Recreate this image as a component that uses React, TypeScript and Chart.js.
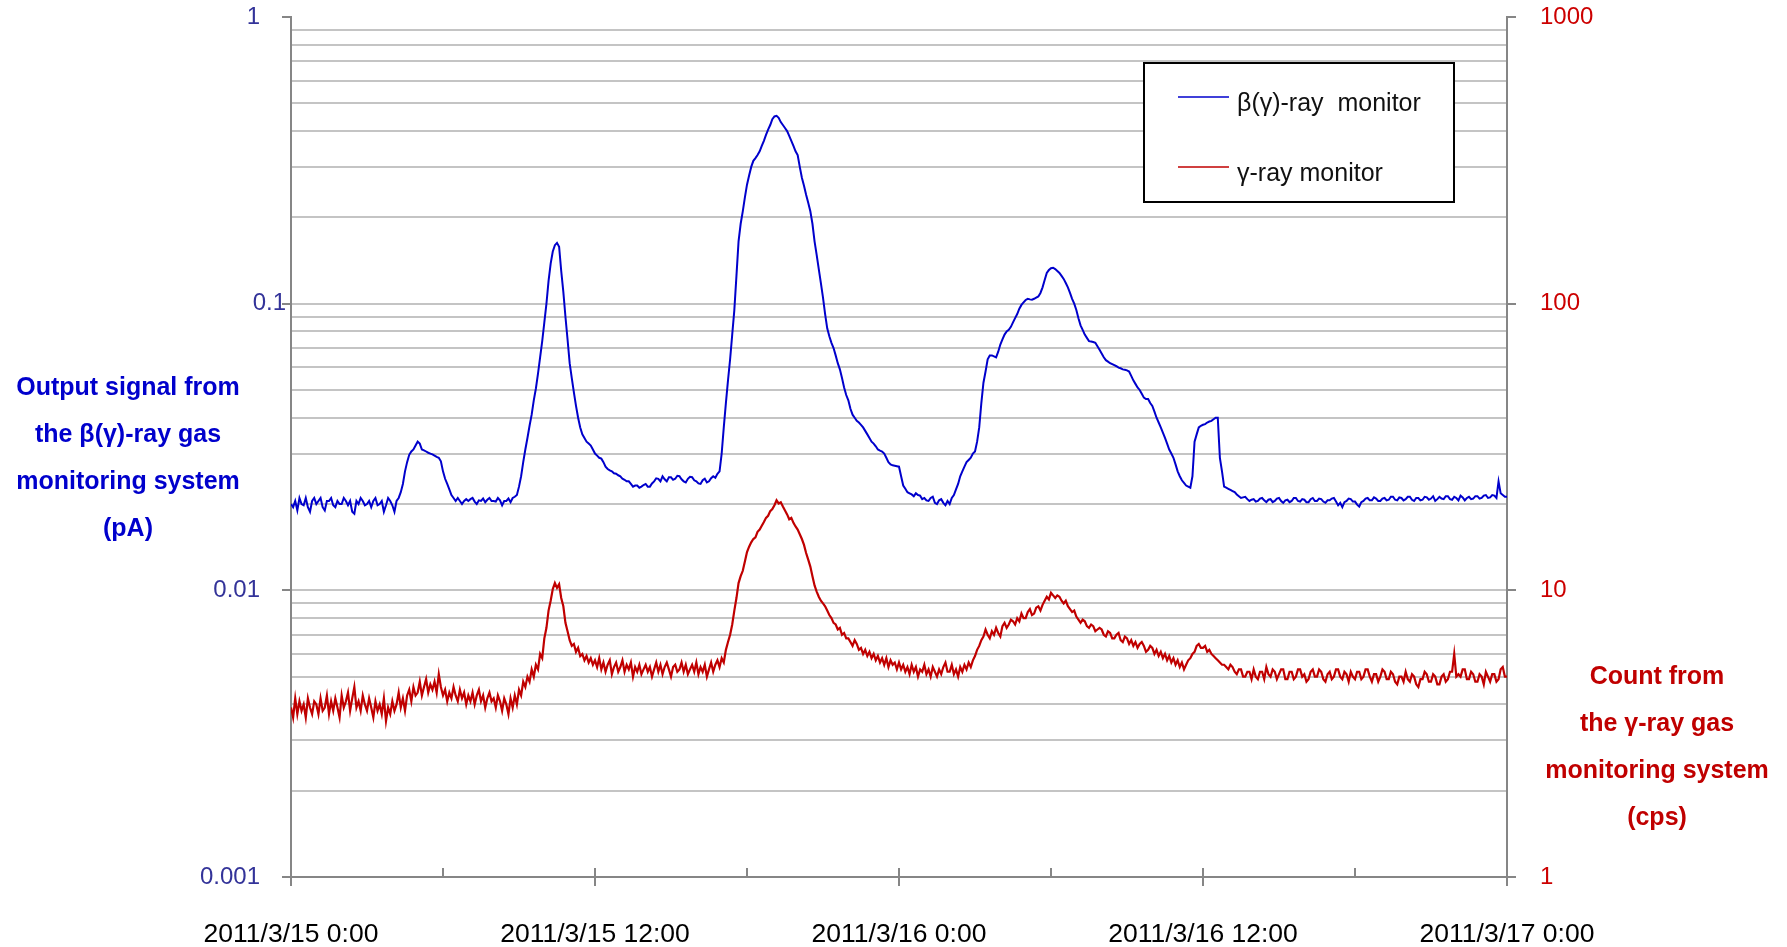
import React, { useEffect, useRef } from 'react';
import { Chart, registerables } from 'chart.js';

Chart.register(...registerables);

// ---------- data ----------
const STEP_HOURS = 1 / 12; // one sample every 5 minutes, starting 2011/3/15 0:00

const xTickHours = [0, 6, 12, 18, 24, 30, 36, 42, 48];
const xTickLabels = ['2011/3/15 0:00', '2011/3/15 12:00', '2011/3/16 0:00', '2011/3/16 12:00', '2011/3/17 0:00'];

const leftTickValues = [
  0.001, 0.002, 0.003, 0.004, 0.005, 0.006, 0.007, 0.008, 0.009,
  0.01, 0.02, 0.03, 0.04, 0.05, 0.06, 0.07, 0.08, 0.09,
  0.1, 0.2, 0.3, 0.4, 0.5, 0.6, 0.7, 0.8, 0.9, 1,
];
const leftMajorValues = [0.001, 0.01, 0.1, 1];
const leftMajorLabels = ['0.001', '0.01', '0.1', '1'];

const rightTickValues = [1, 10, 100, 1000];
const rightMajorLabels = ['1', '10', '100', '1000'];

const betaLabel = 'β(γ)-ray  monitor';
const gammaLabel = 'γ-ray monitor';

const leftTitleLines = ['Output signal from', 'the β(γ)-ray gas', 'monitoring system', '(pA)'];
const rightTitleLines = ['Count from', 'the γ-ray gas', 'monitoring system', '(cps)'];

// β(γ)-ray monitor output (pA), 5-minute samples (one row per hour)
const betaValues = [
  0.020, 0.0195, 0.0205, 0.019, 0.021, 0.020, 0.0198, 0.021, 0.0195, 0.0188, 0.0205, 0.021,
  0.020, 0.0205, 0.021, 0.0195, 0.019, 0.0205, 0.0205, 0.021, 0.0198, 0.0195, 0.0205, 0.020,
  0.020, 0.021, 0.0205, 0.0198, 0.0205, 0.0188, 0.0185, 0.0205, 0.020, 0.021, 0.0205, 0.0198,
  0.020, 0.0205, 0.0195, 0.0205, 0.021, 0.0198, 0.020, 0.0205, 0.0188, 0.0198, 0.021, 0.0205,
  0.0198, 0.0188, 0.0205, 0.021, 0.022, 0.0235, 0.026, 0.028, 0.0297, 0.0305, 0.031, 0.032,
  0.033, 0.0325, 0.031, 0.0308, 0.0305, 0.0302, 0.030, 0.0298, 0.0295, 0.0292, 0.029, 0.0282,
  0.026, 0.0245, 0.0235, 0.0225, 0.0215, 0.021, 0.0205, 0.021, 0.0205, 0.020, 0.0205, 0.0208,
  0.0205, 0.0208, 0.0210, 0.0204, 0.0200, 0.0206, 0.0205, 0.0209, 0.0203, 0.0207, 0.0210, 0.0205,
  0.0205, 0.0204, 0.0210, 0.0206, 0.0198, 0.0205, 0.0205, 0.0209, 0.0203, 0.021, 0.0212, 0.0215,
  0.023, 0.025, 0.028, 0.031, 0.034, 0.0375, 0.041, 0.046, 0.0506, 0.057, 0.065, 0.074,
  0.086, 0.10, 0.12, 0.138, 0.152, 0.16, 0.163, 0.158, 0.13, 0.11, 0.09, 0.075,
  0.062, 0.055, 0.049, 0.044, 0.040, 0.037, 0.035, 0.034, 0.033, 0.0325, 0.032, 0.031,
  0.030, 0.0295, 0.029, 0.0288, 0.028, 0.027, 0.0265, 0.0262, 0.026, 0.0256, 0.0255, 0.0252,
  0.025, 0.0245, 0.0243, 0.0240, 0.024, 0.0235, 0.023, 0.0232, 0.0232, 0.0228, 0.023, 0.0233,
  0.0235, 0.023, 0.023, 0.0236, 0.024, 0.0246, 0.0245, 0.024, 0.025, 0.0244, 0.024, 0.0248,
  0.0248, 0.0243, 0.0245, 0.0251, 0.025, 0.0244, 0.024, 0.0238, 0.0245, 0.0249, 0.0248, 0.0242,
  0.024, 0.0236, 0.0235, 0.0242, 0.0245, 0.0238, 0.024, 0.0246, 0.025, 0.0247, 0.0255, 0.026,
  0.030, 0.037, 0.045, 0.054, 0.064, 0.078, 0.095, 0.125, 0.165, 0.19, 0.21, 0.235,
  0.26, 0.28, 0.30, 0.315, 0.322, 0.33, 0.34, 0.355, 0.37, 0.388, 0.405, 0.42,
  0.44, 0.45, 0.452, 0.445, 0.43, 0.42, 0.41, 0.40, 0.385, 0.37, 0.355, 0.34,
  0.33, 0.30, 0.275, 0.258, 0.24, 0.225, 0.21, 0.19, 0.165, 0.148, 0.132, 0.118,
  0.105, 0.092, 0.082, 0.077, 0.073, 0.070, 0.066, 0.062, 0.059, 0.055, 0.051, 0.048,
  0.046, 0.043, 0.041, 0.040, 0.039, 0.0385, 0.0378, 0.037, 0.036, 0.035, 0.034, 0.033,
  0.0325, 0.0318, 0.031, 0.0307, 0.0305, 0.030, 0.029, 0.028, 0.0275, 0.0273, 0.0272, 0.0271,
  0.027, 0.025, 0.0232, 0.0226, 0.022, 0.0218, 0.0216, 0.0213, 0.0218, 0.0215, 0.0214, 0.0208,
  0.021, 0.0206, 0.0205, 0.0210, 0.0212, 0.0202, 0.020, 0.0206, 0.0208, 0.0202, 0.0198, 0.0205,
  0.020, 0.021, 0.0215, 0.0225, 0.0235, 0.025, 0.026, 0.027, 0.028, 0.0285, 0.029, 0.030,
  0.0305, 0.033, 0.037, 0.045, 0.053, 0.058, 0.064, 0.066, 0.066, 0.0655, 0.065, 0.068,
  0.072, 0.075, 0.078, 0.080, 0.081, 0.083, 0.086, 0.089, 0.092, 0.096, 0.099, 0.101,
  0.103, 0.104, 0.1035, 0.1032, 0.104, 0.105, 0.106, 0.109, 0.114, 0.121, 0.128, 0.131,
  0.133, 0.1335, 0.132, 0.130, 0.128, 0.125, 0.122, 0.118, 0.114, 0.109, 0.104, 0.100,
  0.095, 0.089, 0.084, 0.081, 0.078, 0.076, 0.074, 0.0738, 0.0735, 0.073, 0.071, 0.069,
  0.067, 0.065, 0.0635, 0.0628, 0.062, 0.0615, 0.061, 0.0605, 0.0598, 0.0595, 0.059, 0.0588,
  0.0585, 0.058, 0.056, 0.054, 0.0525, 0.051, 0.050, 0.0485, 0.047, 0.0465, 0.0465, 0.045,
  0.044, 0.042, 0.040, 0.0385, 0.037, 0.0355, 0.034, 0.0325, 0.031, 0.030, 0.029, 0.0275,
  0.026, 0.025, 0.0242, 0.0237, 0.0232, 0.023, 0.0228, 0.025, 0.033, 0.035, 0.037, 0.0375,
  0.0378, 0.038, 0.0385, 0.0388, 0.039, 0.0395, 0.040, 0.040, 0.029, 0.026, 0.023, 0.0228,
  0.0226, 0.0224, 0.0222, 0.022, 0.0216, 0.0213, 0.021, 0.0211, 0.0212, 0.0208, 0.0205, 0.0207,
  0.0208, 0.0204, 0.0205, 0.0209, 0.021, 0.0206, 0.0203, 0.0207, 0.0208, 0.0203, 0.0205, 0.0209,
  0.021, 0.0205, 0.0202, 0.0206, 0.0207, 0.0203, 0.0205, 0.021, 0.021, 0.0205, 0.0204, 0.0208,
  0.0207, 0.0203, 0.0203, 0.0208, 0.021, 0.0205, 0.0205, 0.0209, 0.0208, 0.0204, 0.0202, 0.0206,
  0.0206, 0.0209, 0.021, 0.0204, 0.0198, 0.0202, 0.0195, 0.0203, 0.0205, 0.0209, 0.0208, 0.0204,
  0.0204, 0.0199, 0.0196, 0.0203, 0.0205, 0.0209, 0.021, 0.0206, 0.0206, 0.0211, 0.0209, 0.0205,
  0.0205, 0.0209, 0.021, 0.0206, 0.0207, 0.0212, 0.0212, 0.0207, 0.0206, 0.0211, 0.021, 0.0206,
  0.0208, 0.0212, 0.0212, 0.0207, 0.0205, 0.021, 0.021, 0.0206, 0.0207, 0.0212, 0.0211, 0.0207,
  0.0209, 0.0213, 0.0205, 0.0208, 0.0212, 0.0209, 0.0208, 0.0213, 0.0213, 0.0208, 0.0207, 0.0212,
  0.021, 0.0206, 0.0214, 0.0211, 0.0206, 0.021, 0.0212, 0.0208, 0.0209, 0.0213, 0.0213, 0.0209,
  0.021, 0.0214, 0.0215, 0.021, 0.0211, 0.0215, 0.0214, 0.021, 0.024, 0.0218, 0.0215, 0.0212,
  0.0212,
];

// γ-ray monitor count (cps), 5-minute samples (one row per hour)
const gammaValues = [
  3.9, 3.6, 4.2, 3.7, 4.1, 3.8, 4.0, 3.6, 4.2, 3.9, 3.7, 4.1,
  4.0, 3.7, 4.2, 3.8, 3.9, 4.3, 3.7, 4.1, 3.8, 4.2, 3.9, 3.6,
  4.3, 3.9, 4.1, 4.4, 3.8, 4.2, 4.6, 3.9, 4.1, 3.8, 4.3, 4.0,
  3.8, 4.2, 3.9, 3.6, 4.1, 3.8, 4.0, 3.7, 4.2, 3.5, 3.9, 3.7,
  4.1, 3.8, 4.0, 4.4, 3.9, 4.2, 3.8, 4.3, 4.5, 4.1, 4.6, 4.3,
  4.4, 4.8, 4.3, 4.6, 4.9, 4.4, 4.7, 4.5, 4.8, 4.4, 5.1, 4.6,
  4.3, 4.5, 4.1, 4.4, 4.2, 4.6, 4.3, 4.1, 4.5, 4.2, 4.4, 4.0,
  4.3, 4.1, 4.4, 4.0, 4.3, 4.5, 4.1, 4.3, 3.9, 4.2, 4.4, 4.1,
  4.2, 3.9, 4.3, 4.1, 3.8, 4.2, 4.0, 3.7, 4.2, 3.9, 4.3, 4.0,
  4.5, 4.3, 4.8, 4.6, 5.0, 4.8, 5.3, 5.0, 5.5, 5.3, 6.0, 5.8,
  6.8, 7.4, 8.5, 9.2, 10.1, 10.6, 10.2, 10.5, 9.4, 8.8, 7.7, 7.2,
  6.7, 6.4, 6.5, 6.1, 6.3, 5.9, 6.0, 5.7, 5.9, 5.6, 5.8, 5.5,
  5.7, 5.4, 5.8, 5.3, 5.6, 5.2, 5.5, 5.7, 5.1, 5.4, 5.6, 5.2,
  5.4, 5.7, 5.2, 5.5, 5.3, 5.6, 5.0, 5.4, 5.2, 5.5, 5.1, 5.3,
  5.5, 5.2, 5.4, 5.0, 5.3, 5.6, 5.2, 5.5, 5.1, 5.4, 5.6, 5.3,
  5.0, 5.4, 5.5, 5.2, 5.3, 5.6, 5.2, 5.5, 5.1, 5.3, 5.5, 5.2,
  5.6, 5.1, 5.4, 5.2, 5.5, 5.0, 5.3, 5.6, 5.2, 5.5, 5.7, 5.4,
  5.8, 5.6, 6.2, 6.6, 7.0, 7.6, 8.5, 9.4, 10.6, 11.2, 11.7, 12.6,
  13.6, 14.2, 14.7, 15.1, 15.3, 16.0, 16.3, 16.8, 17.3, 17.9, 18.2, 18.9,
  19.2, 19.8, 20.6, 20.1, 20.3, 19.6, 19.0, 18.4, 17.7, 17.9, 17.2, 16.7,
  16.3, 15.7, 15.1, 14.4, 13.5, 12.8, 12.1, 11.2, 10.4, 9.9, 9.5, 9.2,
  9.0, 8.8, 8.5, 8.2, 8.0, 7.7, 7.6, 7.3, 7.4, 7.0, 7.1, 6.8,
  6.8, 6.6, 6.4, 6.7, 6.5, 6.2, 6.3, 6.0, 6.2, 5.9, 6.1, 5.8,
  6.0, 5.7, 5.9, 5.6, 5.8, 5.5, 5.8, 5.4, 5.7, 5.5, 5.6, 5.3,
  5.6, 5.3, 5.5, 5.2, 5.4, 5.1, 5.5, 5.2, 5.4, 5.0, 5.3, 5.2,
  5.5, 5.1, 5.3, 5.0, 5.4, 5.2, 5.0, 5.3, 5.1, 5.4, 5.6, 5.2,
  5.2, 5.5, 5.1, 5.3, 5.0, 5.4, 5.2, 5.5, 5.3, 5.6, 5.4, 5.7,
  5.9, 6.2, 6.4, 6.7, 6.9, 7.3, 7.0, 6.8, 7.2, 7.0, 7.4, 7.1,
  6.9, 7.5, 7.7, 7.4, 7.6, 7.9, 7.8, 7.6, 8.0, 7.8, 8.3, 8.0,
  8.0, 8.4, 8.6, 8.2, 8.3, 8.7, 8.8, 8.5, 8.9, 9.2, 9.5, 9.3,
  9.8, 9.6, 9.4, 9.6, 9.5, 9.2, 9.0, 9.2, 8.8, 8.6, 8.4, 8.5,
  8.1, 7.9, 7.7, 7.9, 7.8, 7.5, 7.4, 7.6, 7.5, 7.2, 7.3, 7.4,
  7.3, 7.0, 6.9, 7.2, 7.1, 6.8, 6.8, 7.0, 7.1, 6.7, 6.6, 6.9,
  6.8, 6.5, 6.7, 6.4, 6.6, 6.3, 6.5, 6.6, 6.4, 6.1, 6.2, 6.4,
  6.3, 6.0, 6.2, 5.9, 6.1, 5.8, 6.0, 5.7, 5.9, 5.6, 5.8, 5.5,
  5.7, 5.4, 5.6, 5.3, 5.5, 5.7, 5.8, 6.0, 6.1, 6.4, 6.5, 6.3,
  6.3, 6.4, 6.1, 6.2, 6.0, 5.9, 5.8, 5.7, 5.6, 5.5, 5.5, 5.4,
  5.3, 5.5, 5.4, 5.2, 5.1, 5.3, 5.3, 5.0, 5.0, 5.2, 5.2, 4.9,
  5.3, 5.0, 4.9, 5.2, 5.2, 4.9, 5.4, 5.1, 5.0, 5.3, 5.2, 4.9,
  5.1, 5.3, 5.3, 4.9, 4.9, 5.2, 5.2, 4.9, 5.0, 5.3, 5.3, 5.0,
  5.1, 4.8, 4.9, 5.2, 5.3, 5.0, 5.0, 5.3, 5.2, 4.9, 4.8, 5.1,
  5.2, 4.9, 5.0, 5.3, 5.3, 5.0, 4.9, 5.2, 5.1, 4.8, 5.2, 5.0,
  4.9, 5.2, 5.2, 4.9, 5.0, 5.3, 5.3, 5.0, 4.8, 5.1, 5.1, 4.8,
  5.0, 5.3, 5.2, 4.9, 4.9, 5.2, 5.1, 4.8, 4.7, 5.0, 5.0, 4.8,
  5.2, 4.9, 4.8, 5.1, 5.0, 4.7, 4.6, 4.9, 4.9, 5.2, 5.1, 4.8,
  4.8, 5.1, 5.0, 4.7, 4.7, 5.0, 5.1, 4.8, 4.9, 5.2, 5.2, 6.0,
  5.0, 5.1, 5.0, 5.3, 5.3, 4.9, 4.9, 5.2, 5.1, 4.8, 4.8, 5.1,
  5.0, 4.7, 5.2, 5.0, 4.8, 5.1, 5.1, 4.8, 4.9, 5.3, 5.4, 5.0,
  5.0,
];

// ---------- styling / layout ----------
const FONT = "'Liberation Sans', Arial, sans-serif";
const BLUE = '#0000CC';
const RED = '#C00000';
const AXIS_GRAY = '#868686';
const GRID_GRAY = '#C4C4C4';
const LEFT_LABEL_COLOR = '#333399';
// right edge (px) of each left-axis tick label, in the order of leftMajorLabels
const leftLabelRightEdge = [260, 260, 286, 260];

const sameLog = (a: number, b: number) => Math.abs(Math.log10(a) - Math.log10(b)) < 1e-6;
const majorIndex = (v: number, list: number[]) => list.findIndex((m) => sameLog(v, m));

const zeroPad = (s: any) => {
  s.paddingTop = 0;
  s.paddingBottom = 0;
  s.paddingLeft = 0;
  s.paddingRight = 0;
};

const xTickPlugin = {
  id: 'xCrossTicks',
  afterDraw(chart: any) {
    const { ctx, chartArea, scales } = chart;
    const xs = scales.x;
    ctx.save();
    ctx.strokeStyle = AXIS_GRAY;
    ctx.lineWidth = 2;
    xTickHours.forEach((h) => {
      const px = Math.round(xs.getPixelForValue(h));
      const major = h % 12 === 0;
      ctx.beginPath();
      ctx.moveTo(px, chartArea.bottom - 9);
      ctx.lineTo(px, chartArea.bottom + (major ? 9 : 0));
      ctx.stroke();
    });
    ctx.restore();
  },
};

const leftLabelsPlugin = {
  id: 'leftTickLabels',
  afterDraw(chart: any) {
    const { ctx, scales } = chart;
    const ys = scales.y;
    ctx.save();
    ctx.font = `24px ${FONT}`;
    ctx.fillStyle = LEFT_LABEL_COLOR;
    ctx.textAlign = 'right';
    ctx.textBaseline = 'middle';
    leftMajorValues.forEach((v, i) => {
      ctx.fillText(leftMajorLabels[i], leftLabelRightEdge[i], ys.getPixelForValue(v));
    });
    ctx.restore();
  },
};

const titlesPlugin = {
  id: 'sideTitles',
  afterDraw(chart: any) {
    const { ctx } = chart;
    ctx.save();
    ctx.font = `bold 25px ${FONT}`;
    ctx.textAlign = 'center';
    ctx.textBaseline = 'middle';
    ctx.fillStyle = BLUE;
    leftTitleLines.forEach((t, i) => ctx.fillText(t, 128, 388 + i * 47));
    ctx.fillStyle = RED;
    rightTitleLines.forEach((t, i) => ctx.fillText(t, 1657, 677 + i * 47));
    ctx.restore();
  },
};

const legendPlugin = {
  id: 'boxLegend',
  afterDraw(chart: any) {
    const { ctx } = chart;
    const bx = 1144, by = 63, bw = 310, bh = 139;
    ctx.save();
    ctx.fillStyle = '#FFFFFF';
    ctx.fillRect(bx, by, bw, bh);
    ctx.strokeStyle = '#000000';
    ctx.lineWidth = 2;
    ctx.strokeRect(bx, by, bw, bh);
    ctx.font = `25px ${FONT}`;
    ctx.textAlign = 'left';
    ctx.textBaseline = 'middle';
    chart.data.datasets.forEach((ds: any, i: number) => {
      const y = 97 + i * 70;
      ctx.strokeStyle = ds.borderColor;
      ctx.lineWidth = 1.5;
      ctx.beginPath();
      ctx.moveTo(1178, y);
      ctx.lineTo(1229, y);
      ctx.stroke();
      ctx.fillStyle = '#111111';
      ctx.fillText(ds.label, 1237, y + 7);
    });
    ctx.restore();
  },
};

export default function App() {
  const canvasRef = useRef<HTMLCanvasElement | null>(null);

  useEffect(() => {
    if (!canvasRef.current) return;
    const betaPoints = betaValues.map((v, i) => ({ x: i * STEP_HOURS, y: v }));
    const gammaPoints = gammaValues.map((v, i) => ({ x: i * STEP_HOURS, y: v }));

    const chart = new Chart(canvasRef.current, {
      type: 'line',
      data: {
        datasets: [
          {
            label: betaLabel,
            data: betaPoints,
            borderColor: BLUE,
            borderWidth: 2,
            pointRadius: 0,
            tension: 0,
            yAxisID: 'y',
          },
          {
            label: gammaLabel,
            data: gammaPoints,
            borderColor: RED,
            borderWidth: 2.2,
            pointRadius: 0,
            tension: 0,
            yAxisID: 'y2',
          },
        ],
      },
      options: {
        animation: false,
        responsive: false,
        layout: { padding: { top: 17, left: 0, right: 0, bottom: 0 } },
        plugins: {
          legend: { display: false },
          tooltip: { enabled: false },
        },
        scales: {
          x: {
            type: 'linear',
            min: 0,
            max: 48,
            afterBuildTicks: (s: any) => {
              s.ticks = xTickHours.map((v) => ({ value: v }));
            },
            afterFit: (s: any) => {
              s.height = 70;
              zeroPad(s);
            },
            grid: { display: false, drawTicks: false },
            border: { display: true, color: AXIS_GRAY, width: 2 },
            ticks: {
              autoSkip: false,
              maxRotation: 0,
              padding: 42,
              color: '#000000',
              font: { family: FONT, size: 26.5 },
              callback: (v: any) => (Number(v) % 12 === 0 ? xTickLabels[Number(v) / 12] : ''),
            },
          },
          y: {
            type: 'logarithmic',
            position: 'left',
            min: 0.001,
            max: 1,
            afterBuildTicks: (s: any) => {
              s.ticks = leftTickValues.map((v) => ({ value: v }));
            },
            afterFit: (s: any) => {
              s.width = 291;
              zeroPad(s);
            },
            grid: {
              lineWidth: 2,
              color: (c: any) => {
                const v = c.tick ? c.tick.value : 0.5;
                return sameLog(v, 1) || sameLog(v, 0.001) ? 'rgba(0,0,0,0)' : GRID_GRAY;
              },
              tickLength: 9,
              tickWidth: 2,
              tickColor: (c: any) => (c.tick && majorIndex(c.tick.value, leftMajorValues) >= 0 ? AXIS_GRAY : 'rgba(0,0,0,0)'),
            },
            border: { display: true, color: AXIS_GRAY, width: 2 },
            ticks: {
              autoSkip: false,
              padding: 22,
              color: LEFT_LABEL_COLOR,
              font: { family: FONT, size: 24 },
              callback: () => '',
            },
          },
          y2: {
            type: 'logarithmic',
            position: 'right',
            min: 1,
            max: 1000,
            afterBuildTicks: (s: any) => {
              s.ticks = rightTickValues.map((v) => ({ value: v }));
            },
            afterFit: (s: any) => {
              s.width = 280;
              zeroPad(s);
            },
            grid: {
              drawOnChartArea: false,
              lineWidth: 2,
              color: AXIS_GRAY,
              tickLength: 9,
              tickWidth: 2,
              tickColor: AXIS_GRAY,
            },
            border: { display: true, color: AXIS_GRAY, width: 2 },
            ticks: {
              autoSkip: false,
              padding: 24,
              color: '#CC0000',
              font: { family: FONT, size: 24 },
              callback: (v: any) => {
                const k = rightTickValues.findIndex((m) => sameLog(Number(v), m));
                return k >= 0 ? rightMajorLabels[k] : '';
              },
            },
          },
        },
      },
      plugins: [xTickPlugin, leftLabelsPlugin, titlesPlugin, legendPlugin],
    } as any);

    return () => chart.destroy();
  }, []);

  return (
    <div style={{ position: 'fixed', left: 0, top: 0, width: 1787, height: 947, background: '#FFFFFF' }}>
      <canvas ref={canvasRef} width={1787} height={947} style={{ display: 'block', width: 1787, height: 947 }} />
    </div>
  );
}
